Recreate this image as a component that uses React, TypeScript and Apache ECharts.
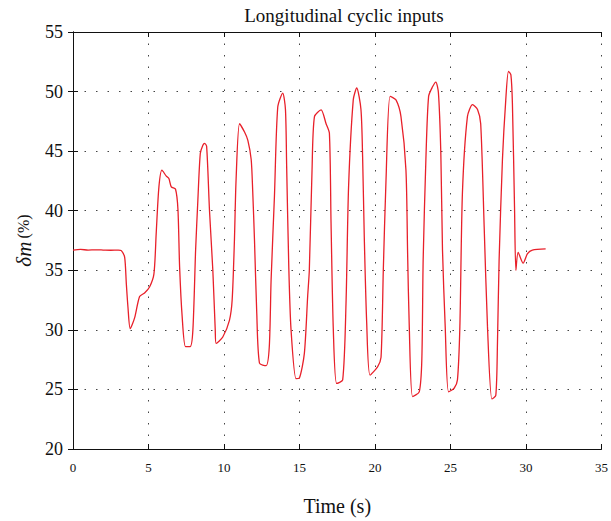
import React, { useEffect, useRef } from "react";
import * as echarts from "echarts";

const title = "Longitudinal cyclic inputs";
const xName = "Time (s)";
const xTicks = [0, 5, 10, 15, 20, 25, 30, 35];
const yTicks = [20, 25, 30, 35, 40, 45, 50, 55];

const times = [
  0, 0.5, 1.0, 1.5, 2.0, 2.5, 3.0, 3.2, 3.42, 3.53, 3.64, 3.79, 4.08, 4.41, 4.74, 5.07, 5.36, 5.51, 5.69, 5.89,
  6.18, 6.35, 6.51, 6.79, 6.95, 7.06, 7.23, 7.45, 7.76, 7.94, 8.12, 8.27, 8.43, 8.6, 8.72, 8.85, 9.04, 9.26, 9.42, 9.48,
  9.92, 10.36, 10.54, 10.69, 10.8, 11.03, 11.36, 11.58, 11.8, 11.9, 12.02, 12.17, 12.35, 12.79, 13.0, 13.12, 13.34, 13.56, 13.89, 14.07,
  14.15, 14.29, 14.44, 14.77, 14.99, 15.32, 15.54, 15.65, 15.83, 15.99, 16.43, 16.76, 16.98, 17.09, 17.24, 17.46, 17.86, 18.08, 18.25, 18.56,
  18.79, 19.07, 19.18, 19.29, 19.45, 19.67, 20.17, 20.4, 20.55, 20.73, 21.0, 21.39, 21.72, 22.05, 22.16, 22.27, 22.49, 22.93, 23.1, 23.19,
  23.37, 23.55, 23.81, 24.03, 24.2, 24.36, 24.47, 24.65, 24.87, 25.24, 25.46, 25.62, 25.79, 26.12, 26.46, 26.79, 27.0, 27.23, 27.45, 27.74,
  28.0, 28.11, 28.22, 28.44, 28.66, 28.84, 29.0, 29.1, 29.24, 29.33, 29.48, 29.81, 30.1, 30.42, 31.3,
];
const dm = [
  36.7, 36.75, 36.7, 36.72, 36.7, 36.68, 36.7, 36.65, 36.1, 33.9, 31.9, 30.1, 31.0, 32.8, 33.1, 33.6, 34.7, 38.1, 42.0, 43.4,
  42.9, 42.7, 42.0, 41.8, 40.1, 35.3, 31.1, 28.6, 28.6, 30.0, 36.7, 40.9, 44.8, 45.5, 45.66, 45.4, 40.0, 35.0, 30.0, 28.86,
  29.4, 30.8, 32.5, 37.5, 42.6, 47.3, 46.6, 45.9, 44.3, 41.7, 37.5, 31.4, 27.2, 27.0, 28.6, 34.2, 41.2, 48.7, 49.87, 48.5,
  43.7, 35.3, 30.0, 25.9, 25.95, 28.0, 32.8, 35.0, 43.4, 47.9, 48.46, 47.3, 46.5, 38.9, 30.0, 25.5, 25.8, 32.2, 42.0, 49.3,
  50.3, 48.5, 44.5, 37.8, 30.6, 26.2, 26.9, 27.7, 35.0, 42.6, 49.6, 49.3, 47.9, 43.4, 36.4, 30.25, 24.4, 24.8, 27.45, 35.9,
  44.3, 49.6, 50.4, 50.8, 49.9, 44.8, 36.7, 30.25, 24.8, 25.1, 25.8, 30.25, 41.5, 47.9, 48.9, 48.5, 47.3, 38.65, 30.25, 24.2,
  24.5, 28.9, 35.9, 44.3, 49.3, 51.7, 51.4, 49.0, 40.3, 35.0, 36.5, 35.6, 36.4, 36.7, 36.8,
];

const serif = "'Liberation Serif', 'DejaVu Serif', serif";

export default function App() {
  const ref = useRef<HTMLDivElement>(null);
  useEffect(() => {
    if (!ref.current) return;
    const chart = echarts.init(ref.current, null, { renderer: "svg" });
    const data = times.map((t, i) => [t, dm[i]]);
    const grid = { left: 73, top: 32, right: 8, bottom: 72 };
    const dotted = { show: true, lineStyle: { color: "#444", type: [1.5, 10] as any, width: 1 } };
    chart.setOption({
      animation: false,
      backgroundColor: "#fff",
      title: {
        text: title,
        left: 339,
        textAlign: "center",
        top: 1,
        textStyle: { fontFamily: serif, fontSize: 19, fontWeight: "normal", color: "#111" },
      },
      grid,
      xAxis: [
        {
          type: "value",
          min: 0,
          max: 35,
          interval: 5,
          name: xName,
          nameLocation: "middle",
          nameGap: 47,
          nameTextStyle: { fontFamily: serif, fontSize: 20, color: "#111" },
          axisLine: { show: true, lineStyle: { color: "#111", width: 1 } },
          axisTick: { show: true, inside: true, length: 5, lineStyle: { color: "#111" } },
          axisLabel: { fontFamily: serif, fontSize: 13, color: "#111", margin: 12 },
          splitLine: dotted,
        },
        {
          type: "value",
          position: "top",
          min: 0,
          max: 35,
          interval: 5,
          axisLine: { show: true, lineStyle: { color: "#111", width: 1 } },
          axisTick: { show: true, inside: true, length: 5, lineStyle: { color: "#111" } },
          axisLabel: { show: false },
          splitLine: { show: false },
        },
      ],
      yAxis: [
        {
          type: "value",
          min: 20,
          max: 55,
          interval: 5,
          name: "{i|δm} {n|(%)}",
          nameLocation: "middle",
          nameGap: 39,
          nameRotate: 90,
          nameTextStyle: {
            rich: {
              i: { fontFamily: serif, fontStyle: "italic", fontSize: 21, color: "#111" },
              n: { fontFamily: serif, fontSize: 16, color: "#111" },
            },
          },
          axisLine: { show: true, lineStyle: { color: "#111", width: 1 } },
          axisTick: { show: true, inside: true, length: 5, lineStyle: { color: "#111" } },
          axisLabel: { fontFamily: serif, fontSize: 18, color: "#111", margin: 10 },
          splitLine: dotted,
        },
        {
          type: "value",
          position: "right",
          min: 20,
          max: 55,
          interval: 5,
          axisLine: { show: true, lineStyle: { color: "#111", width: 1 } },
          axisTick: { show: true, inside: true, length: 5, lineStyle: { color: "#111" } },
          axisLabel: { show: false },
          splitLine: { show: false },
        },
      ],
      series: [
        {
          type: "line",
          data,
          showSymbol: false,
          smooth: 0.25,
          lineStyle: { color: "#e8202a", width: 1.3 },
          xAxisIndex: 0,
          yAxisIndex: 0,
        },
      ],
    });
    return () => chart.dispose();
  }, []);
  return <div ref={ref} style={{ width: 611, height: 521, position: "absolute", left: 0, top: 0 }} />;
}
